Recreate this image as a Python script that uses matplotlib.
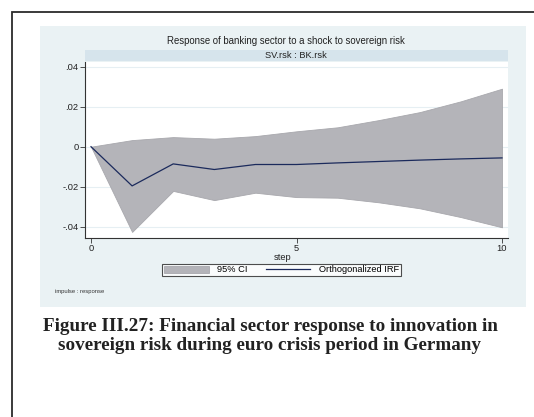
import matplotlib
matplotlib.use("Agg")
import matplotlib.pyplot as plt
from matplotlib.patches import Rectangle

# impulse-response values
steps = [0, 1, 2, 3, 4, 5, 6, 7, 8, 9, 10]
irf = [0.0, -0.0196, -0.0086, -0.0114, -0.0089, -0.0089, -0.0081, -0.0074, -0.0067, -0.0061, -0.0056]
ci_upper = [0.0, 0.0033, 0.0048, 0.0040, 0.0053, 0.0077, 0.0097, 0.0133, 0.0173, 0.0227, 0.0290]
ci_lower = [0.0, -0.0426, -0.0221, -0.0267, -0.0230, -0.0252, -0.0255, -0.0278, -0.0308, -0.0352, -0.0403]
yticks = [-0.04, -0.02, 0.0, 0.02, 0.04]
ytick_labels = ["-.04", "-.02", "0", ".02", ".04"]
xticks = [0, 5, 10]

W, H = 534, 417
FS = 6.7
plt.rcParams["font.family"] = ["Liberation Sans", "DejaVu Sans"]

fig = plt.figure(figsize=(W / 100, H / 100), dpi=100)
fig.patch.set_facecolor("white")


def fx(px):
    return px / W


def fy(py):
    return 1 - py / H


# outer frame (runs off the right and bottom edges)
fig.patches.append(Rectangle((fx(11.5), fy(430)), fx(540) - fx(11.5), fy(11.5) - fy(430),
                             transform=fig.transFigure, fill=False,
                             edgecolor="#2b2b2b", linewidth=1.3, zorder=-2))
# stata graph region
fig.patches.append(Rectangle((fx(40), fy(307)), fx(526) - fx(40), fy(26) - fy(307),
                             transform=fig.transFigure, facecolor="#eaf2f4",
                             edgecolor="none", zorder=-2))
# subtitle strip
fig.patches.append(Rectangle((fx(85), fy(61)), fx(508) - fx(85), fy(50) - fy(61),
                             transform=fig.transFigure, facecolor="#d6e4ec",
                             edgecolor="none", zorder=-1))

fig.text(fx(286), fy(41.5), "Response of banking sector to a shock to sovereign risk",
         ha="center", va="center", fontsize=6.9, color="#222222")
fig.text(fx(296), fy(55.5), "SV.rsk : BK.rsk", ha="center", va="center",
         fontsize=FS, color="#222222")

ax = fig.add_axes([fx(85), fy(237.7), fx(508) - fx(85), fy(62) - fy(237.7)])
ax.set_zorder(2)
ax.set_facecolor("white")

ax.fill_between(steps, ci_lower, ci_upper, color="#b4b4b9", linewidth=0.6,
                edgecolor="#a8a8ad", label="95% CI", zorder=2)
ax.plot(steps, irf, color="#1b2a5c", linewidth=0.9, label="Orthogonalized IRF", zorder=3)

ax.set_xlim(-0.146, 10.146)
ax.set_ylim(-0.0455, 0.04235)
ax.set_yticks(yticks)
ax.set_yticklabels(ytick_labels)
ax.set_xticks(xticks)
ax.yaxis.grid(True, color="#e6eff3", linewidth=0.8)
ax.set_axisbelow(True)

for side in ["top", "right"]:
    ax.spines[side].set_visible(False)
for side in ["left", "bottom"]:
    ax.spines[side].set_color("#333333")
    ax.spines[side].set_linewidth(0.8)
ax.tick_params(axis="both", length=3.5, width=0.6, colors="#333333",
               labelsize=FS, labelcolor="#222222", pad=1.2)

fig.text(fx(283), fy(257.5), "step", ha="center", va="center", fontsize=FS, color="#222222")

leg = ax.legend(loc="center", bbox_to_anchor=(fx(281.5), fy(270)),
                bbox_transform=fig.transFigure, ncol=2, fontsize=FS,
                frameon=True, fancybox=False, edgecolor="#222222",
                handlelength=4.8, handleheight=0.7, columnspacing=1.9,
                handletextpad=0.9, borderpad=0.2, borderaxespad=0)
leg.get_frame().set_linewidth(0.8)
leg.get_frame().set_facecolor("white")

fig.text(fx(55), fy(292), "impulse : response", ha="left", va="center",
         fontsize=4.2, color="#333333")

caption = ("Figure III.27: Financial sector response to innovation in\n"
           "sovereign risk during euro crisis period in Germany")
fig.text(fx(270), fy(336), caption, ha="center", va="center", fontsize=13.8,
         fontweight="bold", family=["Liberation Serif", "DejaVu Serif"],
         color="#222222", linespacing=1.08)

fig.savefig("out.png", dpi=100)
